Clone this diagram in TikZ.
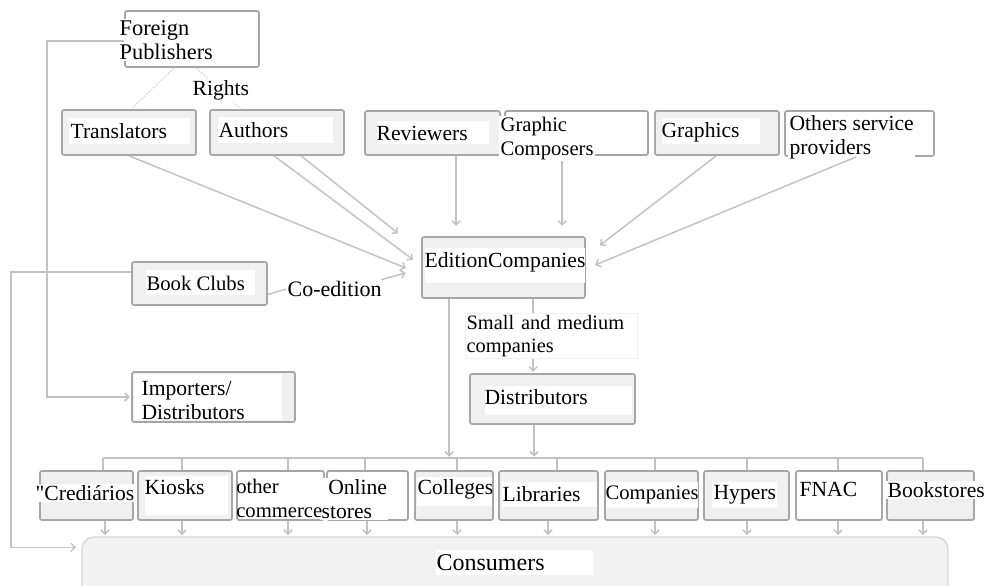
\documentclass[tikz,border=0pt]{standalone}
\usepackage{fontspec}
\setmainfont{Liberation Serif}
\usetikzlibrary{fit,calc,arrows.meta}
\definecolor{bordergray}{HTML}{A6A6A6}
\definecolor{boxfill}{HTML}{F0F0F0}
\definecolor{linegray}{HTML}{C2C2C2}
\begin{document}
\begin{tikzpicture}[x=0.75pt,y=-0.75pt,
  box/.style={draw=bordergray, fill=boxfill, line width=1.3pt, rounded corners=1.5pt, inner sep=0pt},
  wbox/.style={box, fill=white},
  lbl/.style={inner xsep=1pt, inner ysep=1pt, font=\fontsize{16.2}{18}\selectfont, align=left, anchor=west, text=black},
  wlbl/.style={lbl, fill=white},
  conn/.style={draw=linegray, line width=1.1pt, shorten >=1pt, -{Straight Barb[length=3pt,width=6pt]}},
  cline/.style={draw=linegray, line width=1.1pt},
  faint/.style={draw=black!18, line width=0.6pt, dash pattern=on 1.5pt off 1pt},
]
\useasboundingbox (0,0) rectangle (984,585);

% ---------- top row ----------
\node[wbox, fit={(125,11)(259,67)}] (fp) {};
\node[box, fit={(62,110)(196,155)}] (trans) {};
\fill[white] (69,118) rectangle (190,144);
\node[lbl] (transT) at (69,131) {Translators};
\node[box, fit={(210,110)(344,155)}] (auth) {};
\fill[white] (218,117) rectangle (333,143);
\node[lbl] (authT) at (217,130) {Authors};
\node[box, fit={(365,111)(500,155)}] (rev) {};
\fill[white] (377,121) rectangle (489,144);
\node[lbl] (revT) at (375,133) {Reviewers};
\node[wbox, fit={(505,111)(648,155)}] (gc) {};
\node[wlbl, font=\fontsize{15.5}{18}\selectfont] (gcT) at (499,139) {Graphic\\Composers};
\node[box, fit={(655,111)(779,155)}] (gr) {};
\fill[white] (662,118) rectangle (760,144);
\node[lbl] (grT) at (660,132) {Graphics};
\node[wbox, fit={(785,111)(934,156)}] (osp) {};
\node[wlbl] (ospT) at (788,137) {Others service\\providers};

\draw[faint] ($(fp.south west)+(50,0)$) -- ($(trans.north west)+(70,0)$);
\draw[faint] ($(fp.south west)+(72,0)$) -- ($(auth.north west)+(32,0)$);
\node[wlbl, font=\fontsize{16.8}{18}\selectfont] (fpT) at (118,40) {Foreign\\Publishers};
\node[wlbl] (rights) at (191,90) {Rights};

% ---------- middle ----------
\node[box, fit={(422,237)(585,298)}] (ec) {};
\fill[white] (425,248) rectangle (585,283);
\node[lbl] (ecT) at (423,262) {EditionCompanies};

\node[box, fit={(132,262)(267,305)}] (bc) {};
\fill[white] (146,270) rectangle (255,295);
\node[lbl, font=\fontsize{15.5}{18}\selectfont] (bcT) at (145,283) {Book Clubs};
\node[wlbl, font=\fontsize{16.5}{18}\selectfont] (coed) at (286,289) {Co-edition};

\node[box, fit={(132,372)(295,422)}] (imp) {};
\fill[white] (134,374) rectangle (282,420);
\node[lbl] (impT) at (140,400) {Importers/\\Distributors};

\node[lbl, fill=white, draw=black!6, text width=127pt, font=\fontsize{15.3}{17.5}\selectfont] (small) at (465,336) {Small and medium\\companies};

\node[box, fit={(470,374)(635,424)}] (dist) {};
\fill[white] (485,386) rectangle (632,415);
\node[lbl] (distT) at (483,397) {Distributors};

% ---------- bottom row ----------
\node[box, fit={(40,471)(133,520)}] (cred) {};
\node[box, fit={(138,471)(232,520)}] (kio) {};
\fill[white] (145,476) rectangle (228,515);
\node[wbox, fit={(237,471)(324,520)}] (oc) {};
\node[wbox, fit={(327,471)(408,520)}] (onl) {};
\node[box, fit={(415,471)(493,520)}] (col) {};
\fill[white] (417,477) rectangle (492,506);
\node[box, fit={(499,471)(598,520)}] (lib) {};
\fill[white] (502,482) rectangle (597,507);
\node[box, fit={(605,471)(698,520)}] (comp) {};
\fill[white] (606,482) rectangle (698,508);
\node[box, fit={(704,471)(789,520)}] (hyp) {};
\fill[white] (712,482) rectangle (777,508);
\node[wbox, fit={(796,471)(882,520)}] (fnac) {};
\node[box, fit={(887,471)(974,520)}] (book) {};

\node[wlbl] (credT) at (34,493) {\textquotedbl Crediários};
\node[lbl] (kioT) at (143,487) {Kiosks};
\node[wlbl] (onlT) at (320,499) {\hspace*{5pt}Online\\stores};
\node[lbl, inner xsep=0pt, font=\fontsize{15.5}{18}\selectfont] (ocT) at (236,498) {other\\commerce};
\node[lbl] (colT) at (416,489) {Colleges};
\node[lbl] (libT) at (501,494) {Libraries};
\node[lbl, font=\fontsize{15.5}{18}\selectfont] (compT) at (604,495) {Companies};
\node[lbl] (hypT) at (712,495) {Hypers};
\node[lbl] (fnacT) at (798,489) {FNAC};
\node[wlbl] (bookT) at (886,490) {Bookstores};

\node[draw=black!16, fill=black!5, line width=1pt, rounded corners=9pt, inner sep=0pt, fit={(82,537)(948,605)}] (cons) {};
\fill[white] (436,550) rectangle (593,575);
\node[lbl, font=\fontsize{18}{20}\selectfont] (consT) at (435,563) {Consumers};

% ---------- connectors ----------
\draw[conn] ($(fp.north west)+(0,31)$) -- ++(-77,0) |- (imp.west);
\draw[conn] ($(bc.north west)+(0,11)$) -- ++(-120,0) |- ($(cons.north west)+(-4,11)$);

\draw[conn] ($(trans.south west)+(68,0)$) -- ($(ec.west)+(-14,1)$);
\draw[conn] ($(auth.south west)+(65,0)$) -- ($(ec.west)+(-7,-7)$);
\draw[conn] ($(auth.south west)+(92,0)$) -- ($(ec.north west)+(-22,-2)$);
\draw[cline] ($(bc.east)+(0,11)$) -- (coed.west);
\draw[conn] ($(coed.north east)+(-2,0)$) -- ($(ec.west)+(-14,5)$);

\coordinate (revB) at ($(rev.south west)+(92,0)$);
\draw[conn] (revB) -- ($(revB |- ec.north)+(0,-9)$);
\coordinate (gcB) at ($(gc.south west)+(58,5)$);
\draw[conn] (gcB) -- ($(gcB |- ec.north)+(0,-9)$);
\draw[conn] ($(gr.south west)+(62,0)$) -- ($(ec.north east)+(13,10)$);
\draw[conn] ($(osp.south west)+(72,0)$) -- ($(ec.east)+(8,-2)$);

\coordinate (ecS) at ($(ec.south west)+(112,0)$);
\draw[cline] (ecS) -- (ecS |- small.north);
\draw[conn] (ecS |- small.south) -- (ecS |- dist.north);

\foreach \x [count=\i] in {103,182,288,365,457,557,655,747,838,923}
  \coordinate (b\i) at (\x,458);
\foreach \x [count=\i] in {105,182,288,367,457,548,655,747,838,923}
  \coordinate (a\i) at (\x,520);
\draw[cline] (b1) -- (b10);

\coordinate (ecL) at ($(ec.south west)+(28,0)$);
\draw[conn] (ecL) -- (ecL |- b1);
\coordinate (distB) at ($(dist.south west)+(65,0)$);
\draw[conn] (distB) -- (distB |- b1);

\foreach \i/\n in {1/cred,2/kio,3/oc,4/onl,5/col,6/lib,7/comp,8/hyp,9/fnac,10/book}{
  \draw[cline] (b\i) -- (b\i |- \n.north);
  \draw[conn] (a\i |- \n.south) -- (a\i |- cons.north);
}
\end{tikzpicture}
\end{document}
